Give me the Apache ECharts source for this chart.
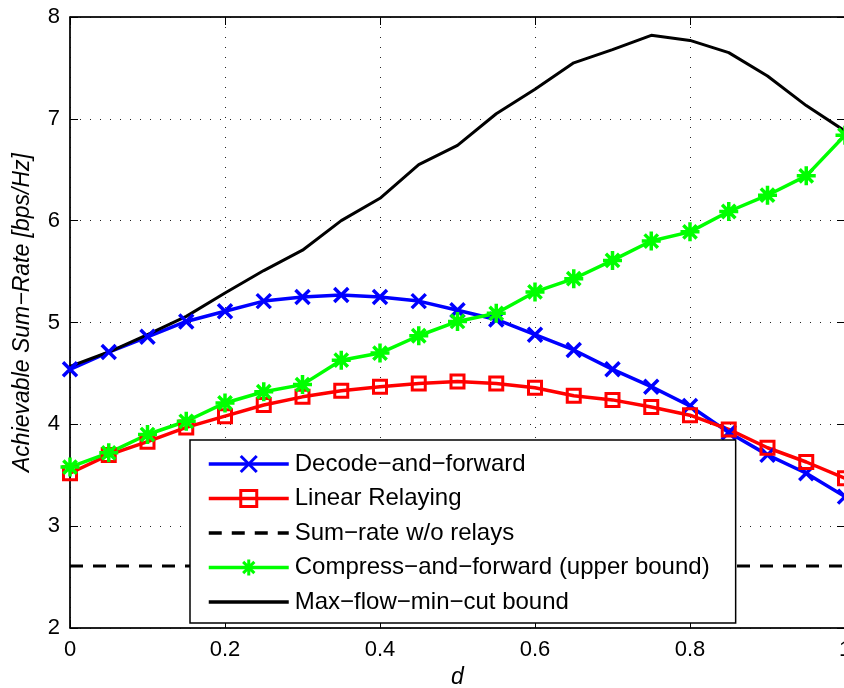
<!DOCTYPE html>
<html>
<head>
<meta charset="utf-8">
<script src="https://cdn.jsdelivr.net/npm/echarts@6/dist/echarts.min.js"></script>
<style>
html,body{margin:0;padding:0;background:#fff;}
#chart{width:844px;height:688px;}
</style>
</head>
<body>
<div id="chart"></div>
<script>
const dValues = [0, 0.05, 0.1, 0.15, 0.2, 0.25, 0.3, 0.35, 0.4, 0.45, 0.5, 0.55, 0.6, 0.65, 0.7, 0.75, 0.8, 0.85, 0.9, 0.95, 1.0];
const decodeForward = [4.54, 4.71, 4.86, 5.01, 5.11, 5.21, 5.25, 5.27, 5.25, 5.21, 5.12, 5.03, 4.88, 4.73, 4.54, 4.37, 4.18, 3.92, 3.70, 3.52, 3.29];
const linearRelaying = [3.52, 3.70, 3.83, 3.97, 4.08, 4.19, 4.27, 4.33, 4.37, 4.40, 4.42, 4.40, 4.36, 4.28, 4.24, 4.17, 4.09, 3.95, 3.77, 3.63, 3.47];
const noRelay = [2.61, 2.61, 2.61, 2.61, 2.61, 2.61, 2.61, 2.61, 2.61, 2.61, 2.61, 2.61, 2.61, 2.61, 2.61, 2.61, 2.61, 2.61, 2.61, 2.61, 2.61];
const compressForward = [3.58, 3.72, 3.90, 4.03, 4.21, 4.32, 4.39, 4.63, 4.70, 4.87, 5.01, 5.09, 5.30, 5.43, 5.61, 5.80, 5.89, 6.09, 6.25, 6.44, 6.84];
const maxFlow = [4.57, 4.71, 4.88, 5.06, 5.29, 5.51, 5.71, 6.00, 6.22, 6.55, 6.74, 7.05, 7.29, 7.55, 7.68, 7.82, 7.77, 7.65, 7.42, 7.13, 6.88];
const seriesNames = ['Decode\u2212and\u2212forward', 'Linear Relaying', 'Sum\u2212rate w/o relays', 'Compress\u2212and\u2212forward (upper bound)', 'Max\u2212flow\u2212min\u2212cut bound'];
const xTicks = [0, 0.2, 0.4, 0.6, 0.8, 1];
const yTicks = [2, 3, 4, 5, 6, 7, 8];

const font = 'Liberation Sans, Arial, Helvetica, sans-serif';
const pair = arr => dValues.map((d, i) => [d, arr[i]]);

const crossPath = 'path://M0,0L10,10M10,0L0,10';
const squarePath = 'path://M0,0L10,0L10,10L0,10Z';
const starPath = 'path://M5,0L5,10M0,5L10,5M1.5,1.5L8.5,8.5M8.5,1.5L1.5,8.5';

const gridLine = {show: true, lineStyle: {color: '#222', width: 1, type: [1, 9]}};

const chart = echarts.init(document.getElementById('chart'), null, {renderer: 'canvas'});
chart.setOption({
  animation: false,
  backgroundColor: '#fff',
  grid: {left: 70, right: -1, top: 17, bottom: 60, outerBoundsMode: 'none', containLabel: false,
    show: true, borderColor: '#000', borderWidth: 1, backgroundColor: 'transparent'},
  legend: {
    orient: 'vertical', left: 190, top: 440,
    data: [
      {name: seriesNames[0]},
      {name: seriesNames[1]},
      {name: seriesNames[2], itemStyle: {opacity: 0}},
      {name: seriesNames[3]},
      {name: seriesNames[4], itemStyle: {opacity: 0}}
    ],
    itemWidth: 80, itemHeight: 20, itemGap: 10.5,
    padding: [12, 26, 9, 17],
    lineStyle: {width: 3.5},
    itemStyle: {borderWidth: 3},
    backgroundColor: '#fff', borderColor: '#000', borderWidth: 1.5,
    textStyle: {fontFamily: font, fontSize: 24, color: '#000', padding: [0, 0, 0, 1]},
    selectedMode: false
  },
  xAxis: [{
    type: 'value', min: 0, max: 1, interval: 0.2,
    name: 'd', nameLocation: 'middle', nameGap: 33,
    nameTextStyle: {fontFamily: font, fontSize: 23, fontStyle: 'italic', color: '#000'},
    axisLine: {show: true, onZero: false, lineStyle: {color: '#000', width: 1.5}},
    axisTick: {show: true, inside: true, length: 8, lineStyle: {color: '#000'}},
    axisLabel: {fontFamily: font, fontSize: 22, color: '#000', margin: 11,
      formatter: v => (xTicks.indexOf(Math.round(v * 10) / 10) >= 0 ? String(Math.round(v * 10) / 10) : '')},
    splitLine: gridLine
  }, {
    type: 'value', min: 0, max: 1, interval: 0.2, position: 'top',
    axisLine: {show: true, onZero: false, lineStyle: {color: '#000', width: 1.5}},
    axisTick: {show: true, inside: true, length: 8, lineStyle: {color: '#000'}},
    axisLabel: {show: false}, splitLine: {show: false}
  }],
  yAxis: [{
    type: 'value', min: 2, max: 8, interval: 1,
    name: 'Achievable Sum\u2212Rate [bps/Hz]', nameLocation: 'middle', nameGap: 36,
    nameTextStyle: {fontFamily: font, fontSize: 23, fontStyle: 'italic', color: '#000', padding: [0, 0, 0, 20]},
    axisLine: {show: true, onZero: false, lineStyle: {color: '#000', width: 1.5}},
    axisTick: {show: true, inside: true, length: 8, lineStyle: {color: '#000'}},
    axisLabel: {fontFamily: font, fontSize: 22, color: '#000', margin: 10,
      formatter: v => (yTicks.indexOf(v) >= 0 ? String(v) : '')},
    splitLine: gridLine
  }, {
    type: 'value', min: 2, max: 8, interval: 1, position: 'right',
    axisLine: {show: true, onZero: false, lineStyle: {color: '#000', width: 1.5}},
    axisTick: {show: true, inside: true, length: 8, lineStyle: {color: '#000'}},
    axisLabel: {show: false}, splitLine: {show: false}
  }],
  series: [
    {name: seriesNames[0], type: 'line', data: pair(decodeForward),
      symbol: crossPath, symbolSize: 14,
      lineStyle: {color: '#0000ff', width: 3.5},
      itemStyle: {color: '#0000ff', borderColor: '#0000ff', borderWidth: 3.5}},
    {name: seriesNames[1], type: 'line', data: pair(linearRelaying),
      symbol: squarePath, symbolSize: 13,
      lineStyle: {color: '#ff0000', width: 3.5},
      itemStyle: {color: 'rgba(0,0,0,0)', borderColor: '#ff0000', borderWidth: 3}},
    {name: seriesNames[2], type: 'line', data: pair(noRelay),
      symbol: 'none',
      lineStyle: {color: '#000', width: 3, type: [13, 10]},
      itemStyle: {color: '#000'}},
    {name: seriesNames[3], type: 'line', data: pair(compressForward),
      symbol: starPath, symbolSize: 19,
      lineStyle: {color: '#00ff00', width: 3.5},
      itemStyle: {color: '#00ff00', borderColor: '#00ff00', borderWidth: 3.5}},
    {name: seriesNames[4], type: 'line', data: pair(maxFlow),
      symbol: 'none',
      lineStyle: {color: '#000', width: 3},
      itemStyle: {color: '#000'}}
  ]
});
</script>
</body>
</html>
